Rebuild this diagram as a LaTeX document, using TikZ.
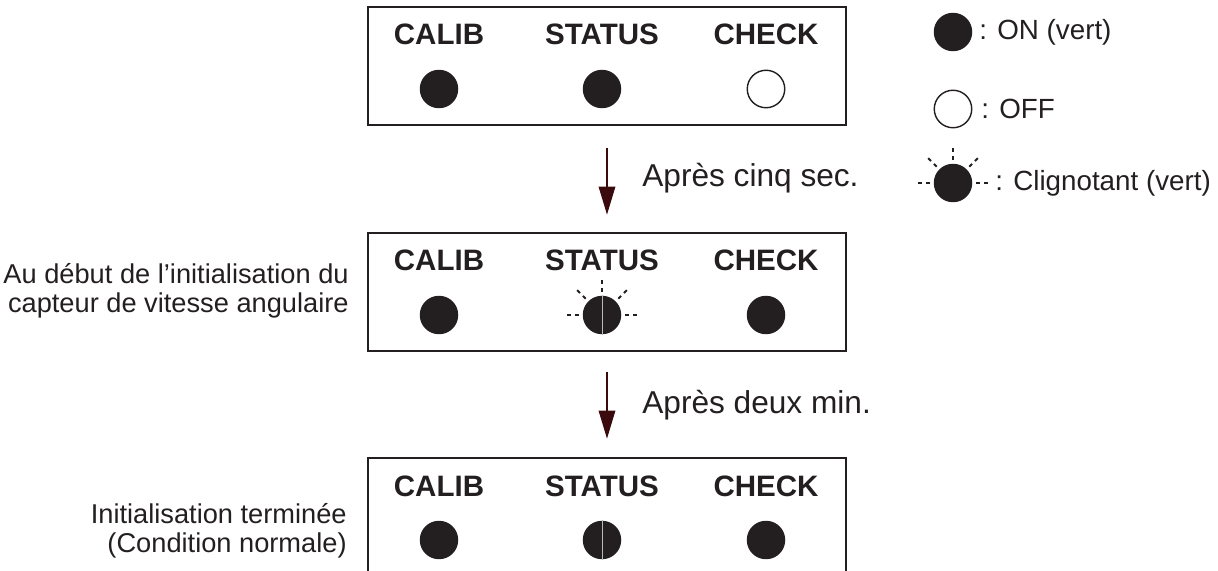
\documentclass[tikz,border=0pt]{standalone}
\usepackage{fontspec}
\setmainfont{Liberation Sans}
\usetikzlibrary{arrows.meta,positioning}
\definecolor{ink}{HTML}{231F20}
\definecolor{arrowbrown}{HTML}{3B0A0C}
\tikzset{
  panel/.style={draw=ink, line width=1.3pt, minimum width=9.56cm, minimum height=2.37cm, inner sep=0pt},
  lamplabel/.style={font=\fontsize{16.8}{19}\selectfont\bfseries, text=ink, anchor=base, inner sep=0pt},
  lampon/.style={circle, fill=ink, minimum size=0.77cm, inner sep=0pt},
  lampoff/.style={circle, draw=ink, line width=0.8pt, fill=white, minimum size=0.75cm, inner sep=0pt},
  ray/.style={draw=ink, line width=1.1pt, dash pattern=on 2.3pt off 2.3pt},
  seam/.style={draw=gray!55, line width=0.4pt},
  steparrow/.style={draw=arrowbrown, line width=0.7pt, -{Triangle[length=16pt,width=9.5pt]}},
  steptext/.style={font=\fontsize{18}{20}\selectfont, text=ink, anchor=base west, inner sep=0pt},
  sidetext/.style={font=\fontsize{15.5}{16.5}\selectfont, text=ink, align=right, anchor=base east, inner sep=0pt},
  legendtext/.style={font=\fontsize{15.8}{18}\selectfont, text=ink, anchor=west, inner sep=0pt},
}
\newcommand{\blinkrays}[1]{%
  \foreach \a in {0,45,90,135,180}
    \draw[ray] (#1) ++(\a:0.46cm) -- ++(\a:0.26cm);}
\begin{document}
\begin{tikzpicture}[x=0.02cm,y=-0.02cm]
\useasboundingbox (0,0) rectangle (1218,571);
\clip (0,0) rectangle (1218,571);
% three panels
\foreach \p/\ytop/\sa/\sb/\sc in {1/7/lampon/lampon/lampoff, 2/233/lampon/lampon/lampon, 3/458/lampon/lampon/lampon}
{
    \node[panel] (panel\p) at (607,{\ytop+59}) {};
    \node[lamplabel] (calibtxt\p) at (439,{\ytop+38}) {CALIB};
    \node[lamplabel] (statustxt\p) at (602,{\ytop+38}) {STATUS};
    \node[lamplabel] (checktxt\p) at (766,{\ytop+38}) {CHECK};
    \node[\sa] (calib\p) at (439,{\ytop+82}) {};
    \node[\sb] (status\p) at (602,{\ytop+82}) {};
    \node[\sc] (check\p) at (766,{\ytop+82}) {};
}
\blinkrays{status2}
\draw[seam] (status2.north) -- (status2.south);
\draw[seam] (status3.north) -- (status3.south);
% steps
\draw[steparrow, shorten <=0.44cm, shorten >=0.34cm] (panel1) -- (panel2);
\draw[steparrow, shorten <=0.4cm, shorten >=0.36cm] (panel2) -- (panel3);
\node[steptext] (wait1) at (642,187) {Après cinq sec.};
\node[steptext] (wait2) at (642,413) {Après deux min.};
% side notes
\node[sidetext] (note2) at (349,312) {Au début de l'initialisation du\\capteur de vitesse angulaire};
\node[sidetext] (note3) at (347,552) {Initialisation terminée\\(Condition normale)};
% legend
\node[lampon] (keyon) at (953,32) {};
\node[lampoff] (keyoff) at (953,109) {};
\node[lampon] (keyblink) at (953,183) {};
\blinkrays{keyblink}
\node[legendtext] (keyontxt) at (979,32) {: ON (vert)};
\node[legendtext] (keyofftxt) at (981,109) {: OFF};
\node[legendtext] (keyblinktxt) at (995,183) {: Clignotant (vert)};
\end{tikzpicture}
\end{document}
